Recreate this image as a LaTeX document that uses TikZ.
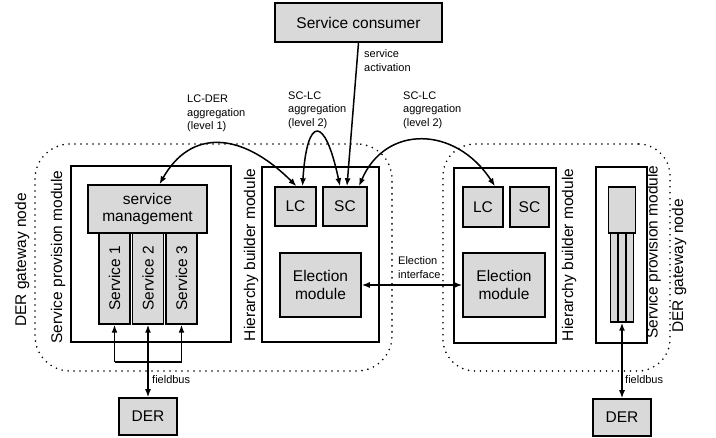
\documentclass[tikz,border=0pt]{standalone}
\usepackage{fontspec}
\setmainfont{Liberation Sans}
\usepackage{graphicx}
\usetikzlibrary{arrows.meta}
\definecolor{boxgray}{RGB}{217,217,217}
\newcommand\bigfont{\fontsize{15.5}{17.5}\selectfont}
\newcommand\smallfont{\fontsize{11}{13.5}\selectfont}
\begin{document}
\begin{tikzpicture}[x=1pt,y=-1pt,
  box/.style={draw, line width=1.5pt, fill=boxgray, inner sep=0pt, align=center, font=\bigfont},
  frame/.style={draw, line width=1.5pt, inner sep=0pt},
  gwframe/.style={draw, line width=1.8pt, dash pattern=on 0pt off 6pt, line cap=round, rounded corners=#1, inner sep=0pt},
  conn/.style={line width=1.5pt},
  onearrow/.style={conn, -{Latex[length=8pt,width=6pt]}},
  twoarrow/.style={conn, {Latex[length=8pt,width=6pt]}-{Latex[length=8pt,width=6pt]}},
  vlabel/.style={rotate=90, font=\bigfont, inner sep=0pt},
  small/.style={font=\smallfont, align=left, inner sep=0pt, anchor=west}]
\useasboundingbox (0,0) rectangle (716,438);

% gateway nodes (dotted)
\node[gwframe=35pt, minimum width=357pt, minimum height=227pt] (gw1) at (213.5,257.5) {};
\node[gwframe=32pt, minimum width=227pt, minimum height=227pt] (gw2) at (556.5,257.5) {};

% service consumer
\node[box, minimum width=167pt, minimum height=39pt] (cons) at (358.5,22.5) {Service consumer};

% left service provision module
\node[frame, minimum width=160pt, minimum height=176pt] (sp1) at (151,254) {};
\node[box, minimum width=119pt, minimum height=48pt] (sm) at (147.5,209) {service\\management};
\node[box, minimum width=31pt, minimum height=91pt] (s1) at (114.5,278.5) {\rotatebox{90}{Service 1}};
\node[box, minimum width=31pt, minimum height=91pt] (s2) at (148,278.5) {\rotatebox{90}{Service 2}};
\node[box, minimum width=31pt, minimum height=91pt] (s3) at (181.5,278.5) {\rotatebox{90}{Service 3}};

% left hierarchy builder module
\node[frame, minimum width=117pt, minimum height=175pt] (hb1) at (320.5,254.5) {};
\node[box, minimum width=41pt, minimum height=39pt] (lc1) at (295.5,206.5) {LC};
\node[box, minimum width=44pt, minimum height=39pt] (sc1) at (345,206.5) {SC};
\node[box, minimum width=81pt, minimum height=64pt] (el1) at (320.5,285) {Election\\module};

% right hierarchy builder module
\node[frame, minimum width=102pt, minimum height=175pt] (hb2) at (505,255.5) {};
\node[box, minimum width=40pt, minimum height=40pt] (lc2) at (483,207) {LC};
\node[box, minimum width=39pt, minimum height=40pt] (sc2) at (529.5,207) {SC};
\node[box, minimum width=82pt, minimum height=64pt] (el2) at (504,285) {Election\\module};

% right service provision module
\node[frame, minimum width=51pt, minimum height=176pt] (sp2) at (621.5,255) {};
\node[box, minimum width=27pt, minimum height=46pt] (sm2) at (622,210) {};
\node[box, minimum width=7pt, minimum height=89pt] (st1) at (614,277.5) {};
\node[box, minimum width=7pt, minimum height=89pt] (st2) at (622,277.5) {};
\node[box, minimum width=7pt, minimum height=89pt] (st3) at (630,277.5) {};

% DER boxes
\node[box, minimum width=58pt, minimum height=37pt] (der1) at (148,416.5) {DER};
\node[box, minimum width=58pt, minimum height=37pt] (der2) at (622,417.5) {DER};

% rotated labels
\node[vlabel] (lgw1) at (22,260) {DER gateway node};
\node[vlabel] (lsp1) at (58,257) {Service provision module};
\node[vlabel] (lhb1) at (251,255) {Hierarchy builder module};
\node[vlabel] (lhb2) at (569,255) {Hierarchy builder module};
\node[vlabel] (lsp2) at (653.5,252) {Service provision module};
\node[vlabel] (lgw2) at (679,266) {DER gateway node};

% connectors
\draw[onearrow] (cons.south) -- ([xshift=2pt]sc1.north);
\draw[twoarrow] ([xshift=12pt]sm.north) .. controls (190,130) and (240,130) .. ([xshift=1pt]lc1.north);
\draw[twoarrow] ([xshift=7pt]lc1.north) .. controls (307,115) and (325,115) .. ([xshift=-5pt]sc1.north);
\draw[twoarrow] ([xshift=14pt]sc1.north) .. controls (385,125) and (455,125) .. ([xshift=12pt]lc2.north);
\draw[twoarrow] (el1.east) -- (el2.west);
\draw[twoarrow] (s2.south) -- (der1.north);
\coordinate (bus) at (148,362);
\draw[conn] (bus -| s1.south) -- (bus -| s3.south);
\draw[onearrow] (bus -| s1.south) -- (s1.south);
\draw[onearrow] (bus -| s3.south) -- (s3.south);
\draw[twoarrow] (st2.south) -- (der2.north);

% small labels
\node[small] (tact) at (364,60.5) {service\\activation};
\node[small] (tagg1) at (187,113.5) {LC-DER\\aggregation\\(level 1)};
\node[small] (tagg2) at (288,110) {SC-LC\\aggregation\\(level 2)};
\node[small] (tagg3) at (403,110) {SC-LC\\aggregation\\(level 2)};
\node[small] (tel) at (398,267.5) {Election\\interface};
\node[small] (tfb1) at (152,380) {fieldbus};
\node[small] (tfb2) at (625,380) {fieldbus};
\end{tikzpicture}
\end{document}
